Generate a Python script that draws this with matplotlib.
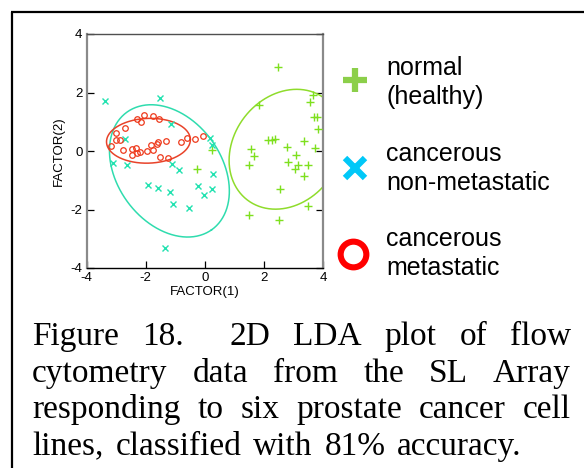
import numpy as np
import matplotlib
matplotlib.use("Agg")
import matplotlib.pyplot as plt
from matplotlib.lines import Line2D

plt.rcParams['font.family'] = ['Liberation Sans', 'DejaVu Sans']

# LDA scores, one array pair per class
normal_f1 = [2.48, 1.85, 3.66, 3.55, 3.71, 3.78, 3.84, 2.15, 2.28, 2.39, 3.34, 3.74,
             1.56, 1.68, 1.48, 2.77, 3.08, 2.82, 3.16, 3.05, 3.50, 3.34, 2.55, 3.49,
             1.48, 2.51, -0.25, 0.24]
normal_f2 = [2.87, 1.57, 1.92, 1.69, 1.15, 1.15, 0.75, 0.37, 0.38, 0.40, 0.34, 0.10,
             0.06, -0.16, -0.49, 0.12, -0.15, -0.38, -0.49, -0.62, -0.48, -0.84, -1.31,
             -1.88, -2.18, -2.35, -0.61, 0.02]

nonmet_f1 = [-3.38, -1.53, -1.15, -2.69, -3.10, -2.62, -1.10, -0.88, -1.92, -1.57,
             -1.18, -1.08, -0.53, -0.23, -0.02, 0.24, 0.28, 0.16, 0.24, -1.34]
nonmet_f2 = [1.71, 1.82, 0.94, 0.41, -0.40, -0.48, -0.44, -0.65, -1.15, -1.26,
             -1.41, -1.82, -1.94, -1.21, -1.50, -1.31, -0.77, 0.46, 0.19, -3.33]

met_f1 = [-3.17, -3.00, -3.00, -2.86, -2.72, -2.78, -2.45, -2.45, -2.33, -2.30,
          -2.20, -2.31, -2.15, -2.06, -1.77, -1.56, -1.95, -1.83, -1.74, -1.61,
          -1.59, -1.51, -1.33, -1.25, -0.80, -0.62, -0.33, -0.05]
met_f2 = [0.18, 0.62, 0.36, 0.36, 0.80, 0.03, 0.06, -0.13, 0.11, -0.08,
          -0.05, 1.08, 0.98, 1.23, 1.20, 1.11, 0.00, 0.20, 0.02, 0.23,
          0.30, -0.19, 0.33, -0.25, 0.31, 0.43, 0.42, 0.52]

# confidence ellipses: center x, center y, width, height, angle (deg)
normal_ellipse = [2.75, 0.06, 4.35, 3.57, 54.0]
nonmet_ellipse = [-1.20, -0.68, 4.94, 3.54, -54.8]
met_ellipse = [-1.91, 0.35, 2.84, 1.53, 2.0]

ticks = [-4, -2, 0, 2, 4]

legend_labels = ["normal\n(healthy)", "cancerous\nnon-metastatic", "cancerous\nmetastatic"]

caption_lines = ["Figure 18.  2D LDA plot of flow",
                 "cytometry data from the SL Array",
                 "responding to six prostate cancer cell",
                 "lines, classified with 81% accuracy."]

GREEN = '#7ee01e'
GREEN_E = '#8fdc2c'
CYAN = '#22e2b0'
CYAN_E = '#2fdcae'
RED = '#ee3a1c'
RED_E = '#e8432a'


def ellipse_path(cx, cy, w, h, ang, xmax=None):
    t = np.linspace(0, 2 * np.pi, 400)
    a = np.radians(ang)
    x = cx + w / 2 * np.cos(t) * np.cos(a) - h / 2 * np.sin(t) * np.sin(a)
    y = cy + w / 2 * np.cos(t) * np.sin(a) + h / 2 * np.sin(t) * np.cos(a)
    if xmax is not None:
        x = np.minimum(x, xmax)
    return x, y


W, H = 584, 468
fig = plt.figure(figsize=(W / 100, H / 100), dpi=100)
ax = fig.add_axes([86.7 / W, 1 - 268 / H, (323 - 86.7) / W, (268 - 34) / H])

ax.set_xlim(-4, 4)
ax.set_ylim(-4, 4)

# ellipses (the normal-class one runs along the plot edge where it leaves the frame)
ex, ey = ellipse_path(*normal_ellipse, xmax=4.0)
ax.plot(ex, ey, color=GREEN_E, lw=1.1, clip_on=False, zorder=2)
ex, ey = ellipse_path(*nonmet_ellipse)
ax.plot(ex, ey, color=CYAN_E, lw=1.1, zorder=2)
ex, ey = ellipse_path(*met_ellipse)
ax.plot(ex, ey, color=RED_E, lw=1.1, zorder=2)

ax.plot(normal_f1, normal_f2, ls='none', marker='+', ms=6, mew=1.0, color=GREEN, zorder=3)
ax.plot(nonmet_f1, nonmet_f2, ls='none', marker='x', ms=4.4, mew=1.0, color=CYAN, zorder=3)
ax.plot(met_f1, met_f2, ls='none', marker='o', ms=4.0, mew=0.9, mfc='none', mec=RED, zorder=3)

ax.set_xticks(ticks)
ax.set_yticks(ticks)
ax.set_xticklabels([str(t) for t in ticks])
ax.set_yticklabels([str(t) for t in ticks])
ax.tick_params(direction='in', length=5, width=0.9, labelsize=9.5, pad=3,
               left=True, right=True, bottom=True, top=False, colors='black')
ax.set_xlabel('FACTOR(1)', fontsize=9.5, labelpad=1)
ax.set_ylabel('FACTOR(2)', fontsize=9.5, labelpad=4)

ax.spines['left'].set_color('#8a8a8a')
ax.spines['left'].set_linewidth(1.6)
ax.spines['right'].set_color('#8a8a8a')
ax.spines['right'].set_linewidth(1.6)
ax.spines['top'].set_color('#505050')
ax.spines['top'].set_linewidth(1.0)
ax.spines['bottom'].set_color('black')
ax.spines['bottom'].set_linewidth(1.0)


def fx(px):
    return px / W


def fy(py):
    return 1 - py / H


# legend
fig.add_artist(Line2D([fx(355)], [fy(80)], marker='+', ms=17.5, mew=4.5,
                      color='#8ccf4a', transform=fig.transFigure))
fig.add_artist(Line2D([fx(355)], [fy(168)], marker='x', ms=14, mew=4.5,
                      color='#00c8f8', transform=fig.transFigure))
fig.add_artist(Line2D([fx(352.5)], [fy(254)], marker='o', ms=18.5, mew=4.4,
                      mfc='none', mec='#ff0000', transform=fig.transFigure))
for label, base in zip(legend_labels, [75, 161, 246]):
    first, second = label.split("\n")
    fig.text(fx(386), fy(base), first, fontsize=18, va='baseline', ha='left')
    fig.text(fx(386), fy(base + 29), second, fontsize=18, va='baseline', ha='left')

# frame lines around the figure
fig.add_artist(Line2D([fx(11.5), fx(11.5)], [fy(12), fy(H + 2)], color='black',
                      lw=1.6, transform=fig.transFigure, solid_capstyle='butt'))
fig.add_artist(Line2D([fx(10.7), fx(W + 2)], [fy(12), fy(12)], color='black',
                      lw=1.6, transform=fig.transFigure, solid_capstyle='butt'))

# justified caption; the closing line uses a looser fixed word spacing
renderer = fig.canvas.get_renderer()
left_px, right_px, last_right_px = 32, 571, 522
baselines = [345, 381.7, 418.3, 455]
cap_kw = dict(fontsize=24, family=['Liberation Serif', 'DejaVu Serif'], va='baseline')
for i, (line, base) in enumerate(zip(caption_lines, baselines)):
    words = line.split(' ')
    objs = [fig.text(0, fy(base), w, ha='left', **cap_kw) for w in words]
    widths = [o.get_window_extent(renderer).width if w else 0 for o, w in zip(objs, words)]
    end = last_right_px if i == len(caption_lines) - 1 else right_px
    gap = (end - left_px - sum(widths)) / (len(words) - 1)
    x = left_px
    for o, wdt in zip(objs, widths):
        o.set_x(fx(x))
        x += wdt + gap

fig.savefig('out.png', dpi=100)
